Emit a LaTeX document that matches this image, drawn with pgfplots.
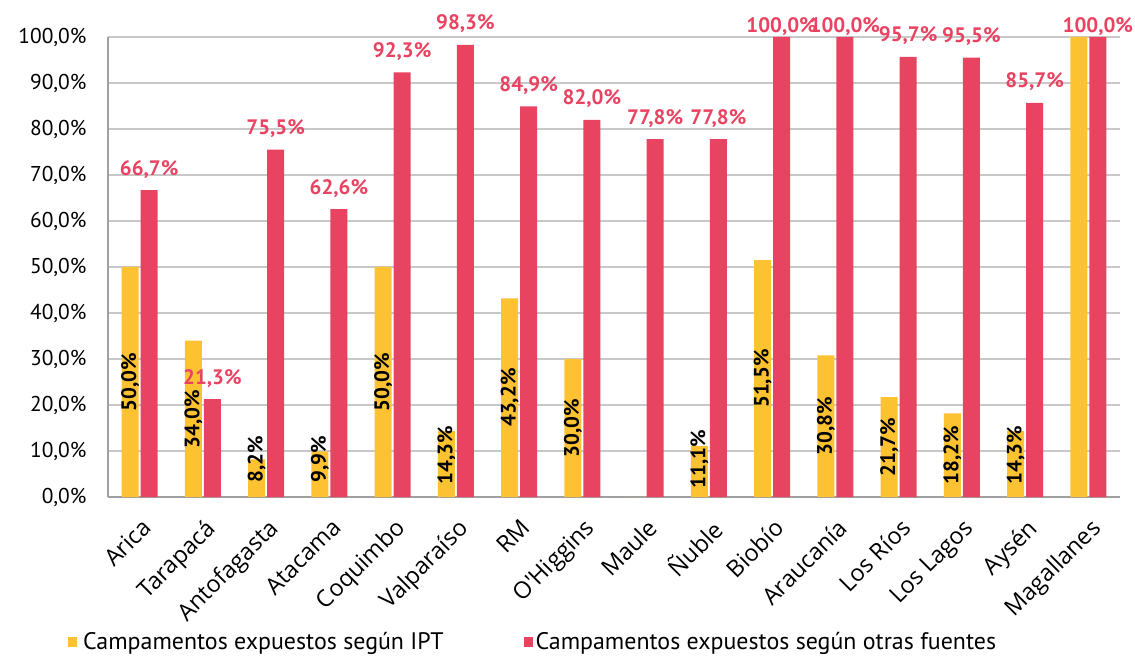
\documentclass[border=0pt]{standalone}
\usepackage{fontspec}
\setmainfont{PT Sans}
\newfontfamily\xfont{Open Sans}
\usepackage{pgfplots}
\pgfplotsset{compat=1.18}
\usepackage{pgfplotstable}
\definecolor{cyel}{HTML}{FDC232}
\definecolor{cred}{HTML}{E84361}
\definecolor{cgrid}{HTML}{C8C8C8}
\definecolor{caxis}{HTML}{A0A0A0}

\pgfplotstableread{
x ipt otras
0 50.0 66.7
1 34.0 21.3
2 8.2 75.5
3 9.9 62.6
4 50.0 92.3
5 14.3 98.3
6 43.2 84.9
7 30.0 82.0
8 0 77.8
9 11.1 77.8
10 51.5 100.0
11 30.8 100.0
12 21.7 95.7
13 18.2 95.5
14 14.3 85.7
15 100.0 100.0
}\data

% label positions (centre of rotated label) for IPT series
\pgfplotstableread{
x pos v
0 25 50.0
1 17 34.0
2 8.2 8.2
3 8.2 9.9
4 25 50.0
5 9.1 14.3
6 21.6 43.2
7 15 30.0
9 8.2 11.1
10 25.75 51.5
11 15.4 30.8
12 10.85 21.7
13 9.1 18.2
14 9.1 14.3
}\labipt

% label baselines for the other-sources series
\pgfplotstableread{
x pos v
0 69.96 66.7
1 24.56 21.3
2 78.76 75.5
3 65.86 62.6
4 95.56 92.3
5 101.56 98.3
6 88.16 84.9
7 85.26 82.0
8 81.06 77.8
9 81.06 77.8
10 100.87 100.0
11 100.87 100.0
12 98.96 95.7
13 98.76 95.5
14 88.96 85.7
15 100.87 100.0
}\labotr

\begin{document}
\begin{tikzpicture}
\useasboundingbox (-108bp,-161bp) rectangle (1027bp,497bp);
\begin{axis}[
  at={(0,0)}, anchor=south west,
  scale only axis, width=1012bp, height=460bp,
  xmin=-0.5, xmax=15.5, ymin=0, ymax=100,
  clip=false,
  xtick={0,...,15},
  xticklabels={Arica,Tarapacá,Antofagasta,Atacama,Coquimbo,Valparaíso,RM,O'Higgins,Maule,Ñuble,Biobío,Araucanía,Los Ríos,Los Lagos,Aysén,Magallanes},
  ytick={0,10,...,100},
  ymajorgrids, grid style={cgrid, line width=1.2bp},
  axis x line*=bottom, axis y line*=left,
  axis line style={caxis, line width=1.5bp, -},
  major tick length=0pt,
  /pgf/number format/assume math mode=true,
  yticklabel={\pgfmathprintnumber[fixed,fixed zerofill,precision=1,use comma]{\tick}\%},
  yticklabel style={font=\fontsize{21.5}{24}\selectfont, xshift=-18bp},
  xticklabel style={font=\xfont\fontsize{23.5}{26}\selectfont, inner sep=0pt, xshift=1bp, yshift=-20bp, rotate=45, anchor=north east},
  legend columns=2,
  legend style={draw=none, fill=none, inner sep=0pt, at={(-40bp,-145bp)}, anchor=west,
    font=\fontsize{24}{26}\selectfont,
    /tikz/every even column/.append style={column sep=78bp}},
  legend cell align=left,
  legend image code/.code={\fill[#1,draw=none] (0bp,-5bp) rectangle (9bp,5bp);},
]
\addplot[ybar, bar width=17bp, bar shift=-9.5bp, fill=cyel, draw=none] table[x=x,y=ipt]{\data};
\addlegendentry{\hspace{4bp}Campamentos expuestos según IPT}
\addplot[ybar, bar width=17bp, bar shift=9.5bp, fill=cred, draw=none] table[x=x,y=otras]{\data};
\addlegendentry{\hspace{1bp}Campamentos expuestos según otras fuentes}

\addplot[draw=none, mark=none, forget plot, point meta=explicit,
  nodes near coords={\pgfmathprintnumber[fixed,fixed zerofill,precision=1,use comma]{\pgfplotspointmeta}\%},
  every node near coord/.append style={xshift=-9.5bp, anchor=center, rotate=90, inner sep=0pt,
    font=\bfseries\fontsize{21}{23}\selectfont, text=black}]
  table[x=x,y=pos,meta=v]{\labipt};

\addplot[draw=none, mark=none, forget plot, point meta=explicit,
  nodes near coords={\pgfmathprintnumber[fixed,fixed zerofill,precision=1,use comma]{\pgfplotspointmeta}\%},
  every node near coord/.append style={anchor=base, xshift=9.5bp, inner sep=0pt,
    font=\bfseries\fontsize{21}{23}\selectfont, text=cred}]
  table[x=x,y=pos,meta=v]{\labotr};
\end{axis}
\end{tikzpicture}
\end{document}
